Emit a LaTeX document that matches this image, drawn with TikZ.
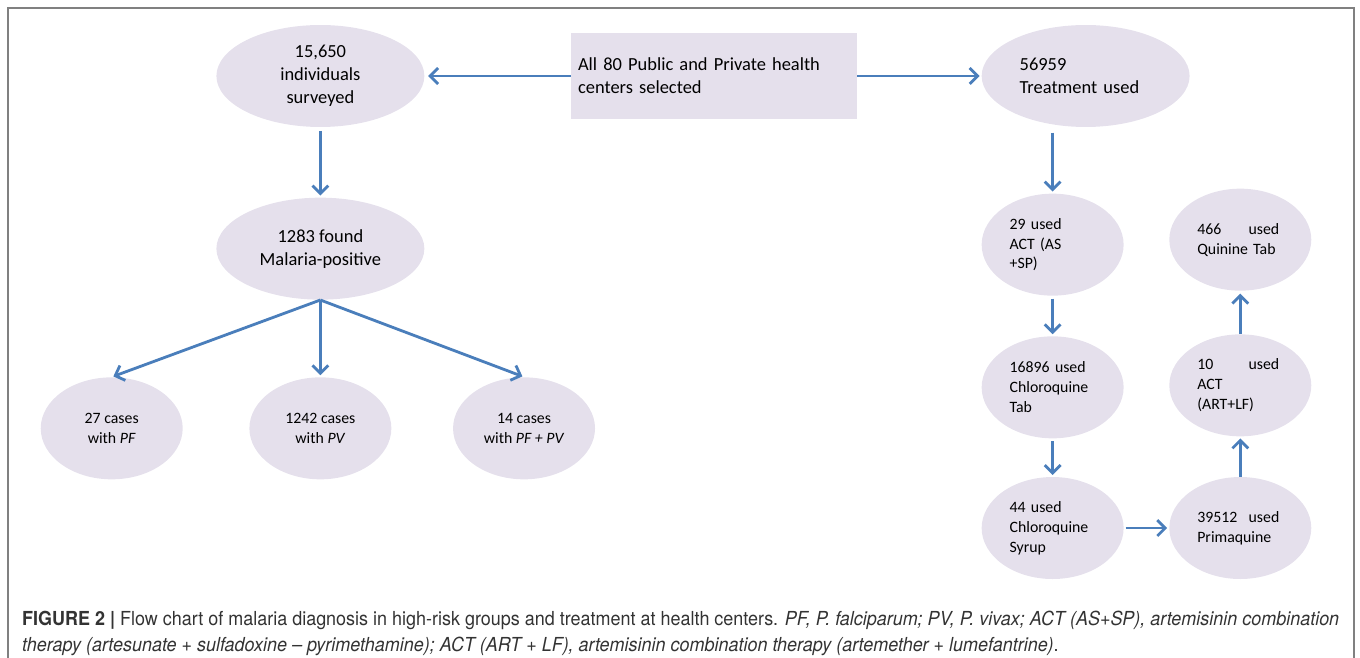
\documentclass[tikz,border=0pt]{standalone}
\usepackage{fontspec}
\setmainfont{Carlito}
\newfontfamily\capfont[FakeStretch=0.93]{TeX Gyre Heros}
\usepackage{xcolor}
\usetikzlibrary{shapes.geometric, arrows.meta, positioning}

\definecolor{ovalfill}{RGB}{229,224,236}
\definecolor{arrowblue}{RGB}{74,126,187}

\begin{document}
\begin{tikzpicture}[
    x=0.02cm, y=-0.02cm,
    node distance=1.4cm and 1.3cm,
    bigoval/.style={
        ellipse,
        fill=ovalfill,
        inner sep=0pt,
        minimum width=4.16cm,
        minimum height=2.04cm,
        align=center,
        font=\fontsize{10.5}{13}\selectfont
    },
    smalloval/.style={
        ellipse,
        fill=ovalfill,
        inner sep=0pt,
        minimum width=2.84cm,
        minimum height=2.04cm,
        align=center,
        font=\fontsize{9}{11.3}\selectfont
    },
    drugoval/.style={
        smalloval,
        align=left,
        text width=1.72cm
    },
    box/.style={
        rectangle,
        fill=ovalfill,
        align=left,
        text width=5.44cm,
        inner xsep=0.14cm,
        minimum height=1.72cm,
        font=\fontsize{10.5}{13}\selectfont
    },
    line/.style={draw=arrowblue, line width=1.6pt, -{Straight Barb[length=4.5pt,width=9pt]}},
    frame/.style={draw=black!50, line width=0.8pt}
]

\useasboundingbox (0,0) rectangle (1360,658);
\draw[frame] (8,658) -- (8,8) -- (1354,8) -- (1354,658);

\node[box] (centers) at (714,76)
{All 80 Public and Private health\\centers selected};

\node[bigoval, left=2.92cm of centers] (surveyed)
{15,650\\individuals\\surveyed};

\node[bigoval, align=left, text width=2.64cm, right=2.48cm of centers] (treatment)
{56959\\Treatment used};

\node[bigoval, below=1.4cm of surveyed] (positive)
{1283 found\\Malaria-positive};

\node[smalloval, below=1.54cm of positive] (pv)
{1242 cases\\with \textit{PV}};

\node[smalloval, left=1.32cm of pv] (pf)
{27 cases\\with \textit{PF}};

\node[smalloval, right=1.22cm of pv] (pfpv)
{14 cases\\with \textit{PF + PV}};

\node[drugoval, below=1.32cm of treatment, xshift=-0.66cm] (actsp)
{29 used\\ACT (AS\\+SP)};

\node[drugoval, below=0.8cm of actsp] (chltab)
{16896 used\\Chloroquine\\Tab};

\node[drugoval, below=0.76cm of chltab] (chlsyr)
{44 used\\Chloroquine\\Syrup};

\node[drugoval, right=0.9cm of chlsyr] (prima)
{\makebox[1.64cm]{39512\hfill used}\\Primaquine};

\node[drugoval, above=0.8cm of prima] (actlf)
{\makebox[1.64cm]{10\hfill used}\\ACT\\(ART+LF)};

\node[drugoval, above=0.86cm of actlf] (quinine)
{\makebox[1.64cm]{466\hfill used}\\Quinine Tab};

\node[anchor=west, align=left, text=black!80,
      font=\capfont\fontsize{11}{14.7}\selectfont] (caption) at (16,633)
{\textbf{FIGURE 2 |} Flow chart of malaria diagnosis in high-risk groups and treatment at health centers. \textit{PF, P. falciparum; PV, P. vivax; ACT (AS+SP), artemisinin combination}\\
\textit{therapy (artesunate + sulfadoxine – pyrimethamine); ACT (ART + LF), artemisinin combination therapy (artemether + lumefantrine)}.};

\draw[line, shorten >=2pt] (centers.west) -- (surveyed.east);
\draw[line, shorten >=1pt] (centers.east) -- (treatment.west);

\draw[line, shorten <=2pt, shorten >=1pt] (surveyed.south) -- (positive.north);

\draw[line, shorten >=1pt] (positive.south) -- (pf.north);
\draw[line, shorten >=1pt] (positive.south) -- (pv.north);
\draw[line, shorten >=1pt] (positive.south) -- (pfpv.north);

\draw[line, shorten <=3pt, shorten >=1pt] (treatment.south -| actsp.north) -- (actsp.north);
\draw[line, shorten <=1.5pt, shorten >=1pt] (actsp.south) -- (chltab.north);
\draw[line, shorten <=1.5pt, shorten >=1pt] (chltab.south) -- (chlsyr.north);
\draw[line, shorten <=1pt, shorten >=1pt] (chlsyr.east) -- (prima.west);
\draw[line, shorten >=1pt] (prima.north) -- (actlf.south);
\draw[line, shorten >=1.5pt] (actlf.north) -- (quinine.south);

\end{tikzpicture}
\end{document}
